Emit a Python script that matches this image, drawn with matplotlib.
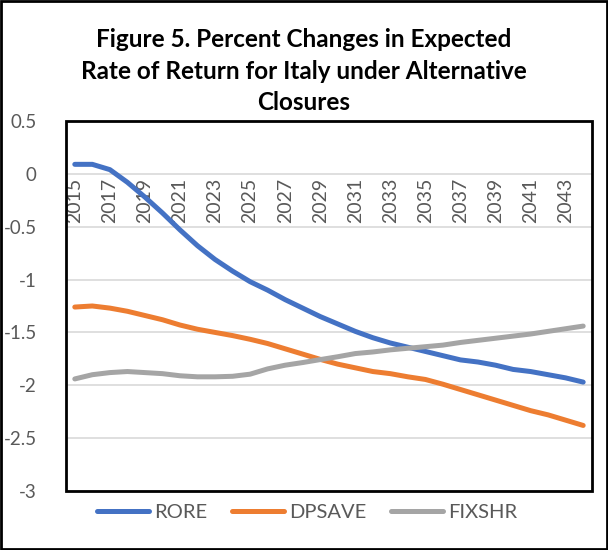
import matplotlib
matplotlib.use("Agg")
import matplotlib.pyplot as plt
from matplotlib.patches import Rectangle

plt.rcParams['font.family'] = ['Lato', 'DejaVu Sans']

years = list(range(2015, 2045))
tick_years = [str(y) for y in range(2015, 2045, 2)]

rore = [0.09, 0.09, 0.04, -0.08, -0.22, -0.37, -0.53, -0.68, -0.81, -0.92,
        -1.02, -1.10, -1.19, -1.27, -1.35, -1.42, -1.49, -1.55, -1.60, -1.64,
        -1.68, -1.72, -1.76, -1.78, -1.81, -1.85, -1.87, -1.90, -1.93, -1.97]
dpsave = [-1.26, -1.25, -1.27, -1.30, -1.34, -1.38, -1.43, -1.47, -1.50, -1.53,
          -1.565, -1.605, -1.655, -1.705, -1.755, -1.80, -1.835, -1.87, -1.89, -1.92,
          -1.945, -1.99, -2.04, -2.09, -2.14, -2.19, -2.24, -2.28, -2.33, -2.38]
fixshr = [-1.94, -1.90, -1.88, -1.87, -1.88, -1.89, -1.91, -1.92, -1.92, -1.915,
          -1.895, -1.845, -1.81, -1.785, -1.757, -1.73, -1.70, -1.685, -1.665, -1.65,
          -1.635, -1.62, -1.595, -1.575, -1.555, -1.535, -1.515, -1.49, -1.465, -1.44]

series = [("RORE", rore, "#4472C4"),
          ("DPSAVE", dpsave, "#ED7D31"),
          ("FIXSHR", fixshr, "#A5A5A5")]

fig = plt.figure(figsize=(6.08, 5.50), dpi=100)
ax = fig.add_axes([0.1086, 0.1073, 0.865, 0.6727])

x = list(range(len(years)))
for name, vals, col in series:
    ax.plot(x, vals, color=col, lw=3.6, label=name,
            solid_capstyle='round', solid_joinstyle='round', zorder=3)

ax.set_xlim(-0.5, len(years) - 0.5)
ax.set_ylim(-3, 0.5)

for s in ax.spines.values():
    s.set_visible(False)
# horizontal axis crosses at zero; category labels hang just below it
ax.spines['bottom'].set_position(('data', 0))

ax.set_yticks([0.5, 0, -0.5, -1, -1.5, -2, -2.5, -3])
ax.set_yticklabels(["0.5", "0", "-0.5", "-1", "-1.5", "-2", "-2.5", "-3"])
ax.yaxis.grid(True, color="#D9D9D9", lw=1.2, zorder=0)
ax.set_axisbelow(True)

ax.set_xticks(x[::2])
ax.set_xticklabels(tick_years)

ax.tick_params(axis='y', length=0, pad=21, labelsize=13.5, labelcolor="#595959")
ax.tick_params(axis='x', length=0, pad=3, labelsize=14, labelcolor="#595959",
               labelrotation=90)

ax.add_patch(Rectangle((0, 0), 1, 1, transform=ax.transAxes, fill=False,
                       lw=2, edgecolor="black", clip_on=False, zorder=5))

fig.text(0.5, 0.949, "Figure 5. Percent Changes in Expected\nRate of Return for Italy under Alternative\nClosures",
         ha='center', va='top', fontsize=17.5, fontweight='bold',
         linespacing=1.45, color="black")

fig.legend(loc='center', bbox_to_anchor=(0.505, 0.068), ncol=3, frameon=False,
           fontsize=14.5, handlelength=2.6, columnspacing=1.2, handletextpad=0.25,
           labelcolor="#595959")

fig.add_artist(Rectangle((0.002, 0.002), 0.996, 0.996, transform=fig.transFigure,
                         fill=False, lw=2, edgecolor="black"))

fig.savefig("out.png", dpi=100)
